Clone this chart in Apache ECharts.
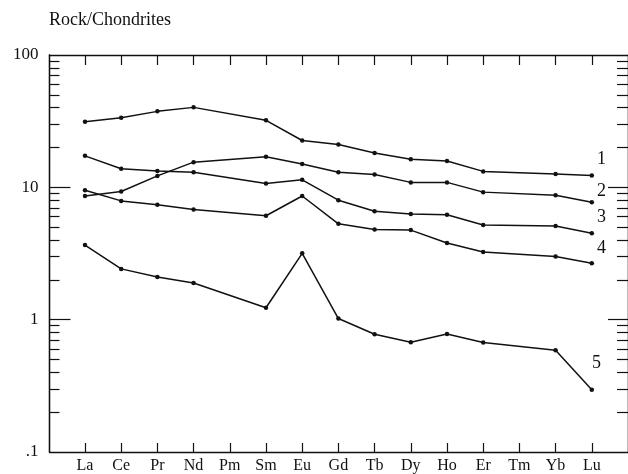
<!DOCTYPE html>
<html>
<head>
<meta charset="utf-8">
<script src="https://cdn.jsdelivr.net/npm/echarts@6.0.0/dist/echarts.min.js"></script>
<style>
html,body{margin:0;padding:0;background:#fff;}
#chart{width:628px;height:474px;}
</style>
</head>
<body>
<div id="chart"></div>
<script>
// Elements (x categories)
const elements = ['La','Ce','Pr','Nd','Pm','Sm','Eu','Gd','Tb','Dy','Ho','Er','Tm','Yb','Lu'];
// Rock / chondrite ratios (null = not measured)
const sample1 = [31.3, 33.6, 37.5, 40.2, null, 32.1, 22.6, 21.1, 18.2, 16.3, 15.8, 13.2, null, 12.6, 12.3];
const sample2 = [8.6, 9.3, 12.2, 15.5, null, 17.0, 15.0, 13.0, 12.5, 10.9, 10.9, 9.2, null, 8.7, 7.7];
const sample3 = [17.3, 13.8, 13.3, 13.0, null, 10.7, 11.4, 8.0, 6.6, 6.3, 6.2, 5.2, null, 5.1, 4.5];
const sample4 = [9.5, 7.9, 7.4, 6.8, null, 6.1, 8.6, 5.3, 4.8, 4.75, 3.8, 3.25, null, 3.0, 2.67];
const sample5 = [3.66, 2.42, 2.10, 1.89, null, 1.23, 3.17, 1.02, 0.776, 0.675, 0.78, 0.672, null, 0.588, 0.296];
const seriesNames = ['1', '2', '3', '4', '5'];
// Tick values
const xTickIndex = [0,1,2,3,4,5,6,7,8,9,10,11,12,13,14];
const yLabelValues = [0.1, 1, 10, 100];
const yMajorTicks = [1, 10];
const yMinorTicks = [0.2,0.3,0.4,0.5,0.6,0.7,0.8,0.9,2,3,4,5,6,7,8,9,20,30,40,50,60,70,80,90];

const FONT = '"Liberation Serif", "DejaVu Serif", serif';
const BLACK = '#111';

function toPairs(arr) {
  const out = [];
  arr.forEach((v, i) => { if (v !== null) out.push([i, v]); });
  return out;
}

const chart = echarts.init(document.getElementById('chart'), null, {renderer: 'canvas'});

const xBase = {
  type: 'value', min: -0.98, max: 15,
  splitLine: {show: false},
  axisLine: {show: true, onZero: false, lineStyle: {color: BLACK, width: 1.3}},
};
const yBase = {
  type: 'log', logBase: 10, min: 0.1, max: 100,
  splitLine: {show: false},
  minorTick: {show: false},
  axisLine: {show: true, onZero: false, lineStyle: {color: BLACK, width: 1.3}},
};

const allSeries = [sample1, sample2, sample3, sample4, sample5].map((s, k) => ({
  name: seriesNames[k],
  type: 'line',
  xAxisIndex: 0, yAxisIndex: 0,
  data: toPairs(s),
  symbol: 'circle', symbolSize: 4.5,
  showAllSymbol: true,
  itemStyle: {color: BLACK},
  lineStyle: {color: BLACK, width: 1.5},
  animation: false,
  z: 5
}));

const option = {
  backgroundColor: '#fff',
  animation: false,
  grid: {left: 49.5, right: -2, top: 55, bottom: 19},
  xAxis: [
    Object.assign({}, xBase, {
      position: 'bottom',
      axisTick: {show: true, inside: true, length: 9, customValues: xTickIndex, lineStyle: {color: BLACK, width: 1.2}},
      axisLabel: {show: true, customValues: xTickIndex, margin: 6, color: BLACK, fontFamily: FONT, fontSize: 16,
        formatter: v => elements[Math.round(v)] || ''}
    }),
    Object.assign({}, xBase, {
      position: 'top',
      axisTick: {show: true, inside: true, length: 10, customValues: xTickIndex, lineStyle: {color: BLACK, width: 1.2}},
      axisLabel: {show: false}
    })
  ],
  yAxis: [
    Object.assign({}, yBase, {
      position: 'left',
      axisTick: {show: true, inside: true, length: 21, customValues: yMajorTicks, lineStyle: {color: BLACK, width: 1.2}},
      axisLabel: {show: true, customValues: yLabelValues, margin: 11, color: BLACK, fontFamily: FONT, fontSize: 17,
        formatter: v => (v < 1 ? '.1' : String(Math.round(v)))}
    }),
    Object.assign({}, yBase, {
      position: 'left',
      axisTick: {show: true, inside: true, length: 10, customValues: yMinorTicks, lineStyle: {color: BLACK, width: 1.2}},
      axisLabel: {show: false}
    }),
    Object.assign({}, yBase, {
      position: 'right',
      axisTick: {show: true, inside: true, length: 20, customValues: yMajorTicks, lineStyle: {color: BLACK, width: 1.2}},
      axisLabel: {show: false}
    }),
    Object.assign({}, yBase, {
      position: 'right',
      axisTick: {show: true, inside: true, length: 11, customValues: yMinorTicks, lineStyle: {color: BLACK, width: 1.2}},
      axisLabel: {show: false}
    })
  ],
  graphic: [
    {type: 'text', left: 49, top: 11, style: {text: 'Rock/Chondrites', fill: BLACK, font: '18px ' + FONT}},
    {type: 'text', left: 597, top: 150, style: {text: seriesNames[0], fill: BLACK, font: '18px ' + FONT}},
    {type: 'text', left: 597, top: 182, style: {text: seriesNames[1], fill: BLACK, font: '18px ' + FONT}},
    {type: 'text', left: 597, top: 208, style: {text: seriesNames[2], fill: BLACK, font: '18px ' + FONT}},
    {type: 'text', left: 597, top: 239, style: {text: seriesNames[3], fill: BLACK, font: '18px ' + FONT}},
    {type: 'text', left: 592, top: 354, style: {text: seriesNames[4], fill: BLACK, font: '18px ' + FONT}}
  ],
  series: allSeries
};
chart.setOption(option);
</script>
</body>
</html>
